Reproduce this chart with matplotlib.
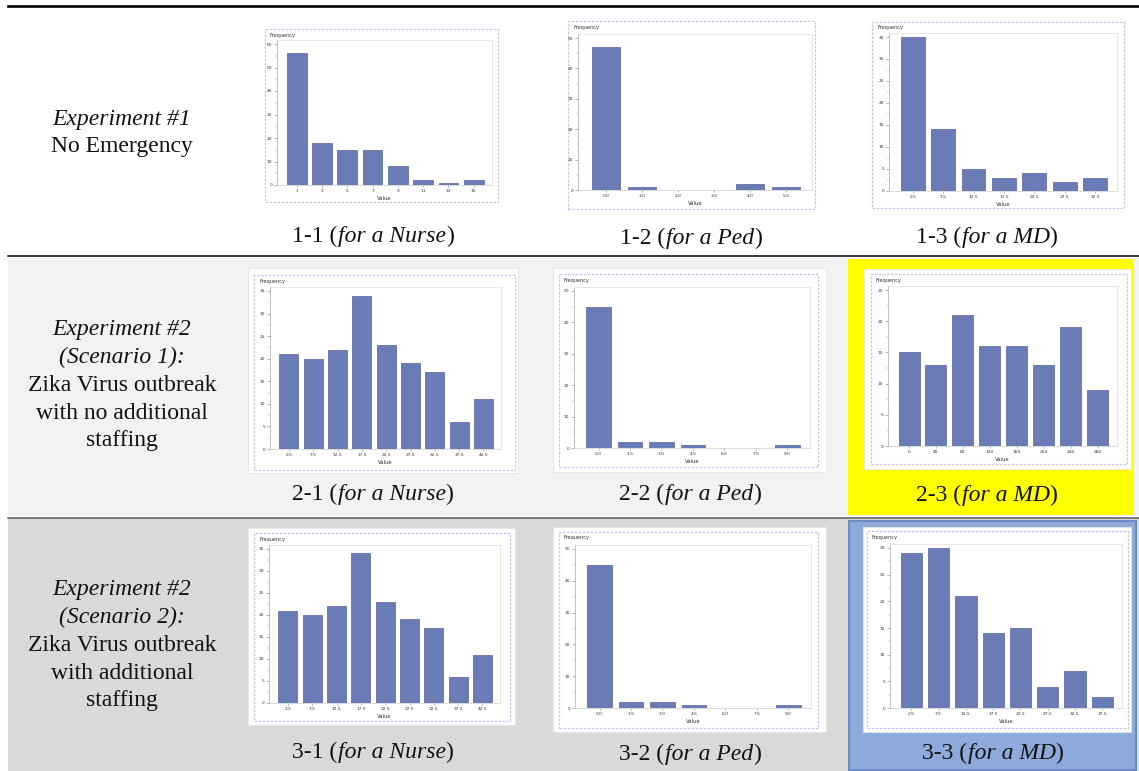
import matplotlib
matplotlib.use("Agg")
import matplotlib.pyplot as plt
from matplotlib.patches import Rectangle
from matplotlib.lines import Line2D
from matplotlib.ticker import MultipleLocator

# ---------------- data ----------------
nurse1_values = [56, 18, 15, 15, 8, 2, 1, 2]
nurse1_labels = ["1", "3", "5", "7", "9", "11", "13", "15"]
ped1_values = [47, 1, 0, 0, 2, 1]
ped1_labels = ["0.0", "1.0", "2.0", "3.0", "4.0", "5.0"]
md1_values = [35, 14, 5, 3, 4, 2, 3]
md1_labels = ["2.5", "7.5", "12.5", "17.5", "22.5", "27.5", "32.5"]

nurse2_values = [21, 20, 22, 34, 23, 19, 17, 6, 11]
nurse2_labels = ["2.5", "7.5", "12.5", "17.5", "22.5", "27.5", "32.5", "37.5", "42.5"]
ped2_values = [45, 2, 2, 1, 0, 0, 1]
ped2_labels = ["0.0", "1.5", "3.0", "4.5", "6.0", "7.5", "9.0"]
md2_values = [15, 13, 21, 16, 16, 13, 19, 9]
md2_labels = ["0", "40", "80", "120", "160", "200", "240", "280"]

nurse3_values = [21, 20, 22, 34, 23, 19, 17, 6, 11]
nurse3_labels = ["2.5", "7.5", "12.5", "17.5", "22.5", "27.5", "32.5", "37.5", "42.5"]
ped3_values = [45, 2, 2, 1, 0, 0, 1]
ped3_labels = ["0.0", "1.5", "3.0", "4.5", "6.0", "7.5", "9.0"]
md3_values = [29, 30, 21, 14, 15, 4, 7, 2]
md3_labels = ["2.5", "7.5", "12.5", "17.5", "22.5", "27.5", "32.5", "37.5"]

row_labels = [
    [("Experiment #1", "italic"), ("No Emergency", "normal")],
    [("Experiment #2", "italic"), ("(Scenario 1):", "italic"), ("Zika Virus outbreak", "normal"),
     ("with no additional", "normal"), ("staffing", "normal")],
    [("Experiment #2", "italic"), ("(Scenario 2):", "italic"), ("Zika Virus outbreak", "normal"),
     ("with additional", "normal"), ("staffing", "normal")],
]
captions = [
    ("1-1", "for a Nurse"), ("1-2", "for a Ped"), ("1-3", "for a MD"),
    ("2-1", "for a Nurse"), ("2-2", "for a Ped"), ("2-3", "for a MD"),
    ("3-1", "for a Nurse"), ("3-2", "for a Ped"), ("3-3", "for a MD"),
]

# ---------------- style ----------------
plt.rcParams["font.family"] = ["Liberation Serif", "DejaVu Serif"]

W, H = 1139, 771
fig = plt.figure(figsize=(W / 100, H / 100), dpi=100)
fig.patch.set_facecolor("white")
FS = 17
renderer = fig.canvas.get_renderer()


def fx(x):
    return x / W


def fy(y):
    return 1 - y / H


def rect(x0, y0, x1, y1, **kw):
    r = Rectangle((fx(x0), fy(y1)), (x1 - x0) / W, (y1 - y0) / H,
                  transform=fig.transFigure, figure=fig, **kw)
    fig.patches.append(r)
    return r


def hline(y, x0, x1, lw, color="black"):
    fig.lines.append(Line2D([fx(x0), fx(x1)], [fy(y), fy(y)], transform=fig.transFigure,
                            color=color, lw=lw, figure=fig))


# backgrounds
rect(8, 258, 1139, 515.5, facecolor="#f2f2f2", edgecolor="none", zorder=0)
rect(8, 519, 1139, 771, facecolor="#d9d9d9", edgecolor="none", zorder=0)
rect(848, 259, 1134, 515, facecolor="#ffff00", edgecolor="none", zorder=0.5)
rect(849, 521, 1136, 770, facecolor="#8eaadb", edgecolor="#6d8cc6", lw=1.5, zorder=0.5)

hline(6, 8, 1139, 1.9)
hline(256, 8, 1139, 1.1)
hline(517.5, 8, 1139, 1.1, color="#555555")

# left labels
label_tops = [119, 330, 590]
for lines, y0 in zip(row_labels, label_tops):
    for i, (t, st) in enumerate(lines):
        fig.text(fx(122), fy(y0 + i * 27.7), t, ha="center", va="center",
                 fontsize=FS, style=st, color="#111111")

# captions (regular / italic / regular pieces)
cap_pos = [(373, 236), (691, 238), (987, 237),
           (373, 494), (690, 494), (987, 495),
           (373, 752), (690, 754), (993, 753)]
for (num, txt), (cx, cy) in zip(captions, cap_pos):
    pieces = [(num + " (", "normal"), (txt, "italic"), (")", "normal")]
    objs = []
    widths = []
    for s, st in pieces:
        t = fig.text(0, fy(cy), s, ha="left", va="baseline", fontsize=FS, style=st,
                     color="#111111")
        objs.append(t)
        widths.append(t.get_window_extent(renderer).width)
    total = sum(widths)
    x = cx - total / 2
    for t, w in zip(objs, widths):
        t.set_x(fx(x))
        x += w
    # vertically: baseline slightly below the centre
    for t in objs:
        t.set_y(fy(cy + 6))

# mini histogram charts
charts = [
    dict(v=nurse1_values, l=nurse1_labels, ymax=60, step=10, card=None,
         frame=(265, 29, 498, 202), ax=(277, 44, 492, 185)),
    dict(v=ped1_values, l=ped1_labels, ymax=50, step=10, card=None,
         frame=(568, 21, 815, 209), ax=(578, 38, 812, 190)),
    dict(v=md1_values, l=md1_labels, ymax=35, step=5, card=None,
         frame=(872, 22, 1124, 208), ax=(889, 37, 1117, 191)),
    dict(v=nurse2_values, l=nurse2_labels, ymax=35, step=5, card=(248, 268, 518, 473),
         frame=(254, 275, 515, 470), ax=(270, 291, 501, 449)),
    dict(v=ped2_values, l=ped2_labels, ymax=50, step=10, card=(553, 268, 826, 472),
         frame=(559, 274, 818, 467), ax=(574, 291, 810, 448)),
    dict(v=md2_values, l=md2_labels, ymax=25, step=5, card=(864, 269, 1131, 469),
         frame=(871, 274, 1127, 464), ax=(888, 290, 1117, 446)),
    dict(v=nurse3_values, l=nurse3_labels, ymax=35, step=5, card=(248, 528, 515, 725),
         frame=(254, 533, 510, 721), ax=(269, 549, 500, 703)),
    dict(v=ped3_values, l=ped3_labels, ymax=50, step=10, card=(553, 527, 826, 732),
         frame=(559, 532, 818, 728), ax=(575, 549, 811, 708)),
    dict(v=md3_values, l=md3_labels, ymax=30, step=5, card=(863, 527, 1131, 732),
         frame=(867, 531, 1128, 728), ax=(890, 548, 1122, 708)),
]

bar_color = "#6b7bb5"
for c in charts:
    if c["card"] is not None:
        x0, y0, x1, y1 = c["card"]
        rect(x0, y0, x1, y1, facecolor="white", edgecolor="#e6e6e6", lw=0.6, zorder=1)
    x0, y0, x1, y1 = c["frame"]
    rect(x0, y0, x1, y1, facecolor="white", edgecolor="#c4c4f4", lw=0.9,
         linestyle=(0, (2, 1.2)), zorder=1.2)
    fig.text(fx(x0 + 5), fy(y0 + 6), "Frequency", fontsize=3.6, family="DejaVu Sans",
             ha="left", va="center", color="#333333", zorder=3)

    ax0, aytop, ax1, ayzero = c["ax"]
    pad = 0.025 * (ayzero - aytop)
    top_px = aytop - pad
    ax = fig.add_axes([fx(ax0), fy(ayzero), (ax1 - ax0) / W, (ayzero - top_px) / H])
    ax.set_zorder(2)
    n = len(c["v"])
    xs = list(range(n))
    ax.bar(xs, c["v"], width=0.78, color=bar_color, edgecolor="#56639c", lw=0.5)
    ax.set_xlim(-0.78, n - 0.28)
    ax.set_ylim(0, c["ymax"] * (ayzero - top_px) / (ayzero - aytop))
    ax.set_xticks(xs)
    ax.set_xticklabels(c["l"], fontsize=3.2, family="DejaVu Sans", color="#333333")
    ax.yaxis.set_major_locator(MultipleLocator(c["step"]))
    ax.yaxis.set_minor_locator(MultipleLocator(c["step"] / 2))
    ax.tick_params(axis="y", labelsize=3.2, length=2, width=0.4, color="#777777",
                   labelcolor="#333333", pad=1.5)
    ax.tick_params(axis="y", which="minor", length=1.2, width=0.3, color="#999999")
    ax.tick_params(axis="x", length=1.5, width=0.4, color="#777777", pad=1.5)
    for lab in ax.get_yticklabels():
        lab.set_family("DejaVu Sans")
    for s in ax.spines.values():
        s.set_color("#dedede")
        s.set_linewidth(0.5)
    ax.spines["left"].set_color("#aaaaaa")
    ax.spines["bottom"].set_color("#cccccc")
    ax.set_facecolor("white")
    ax.set_xlabel("Value", fontsize=3.8, family="DejaVu Sans", color="#333333", labelpad=2)

fig.savefig("out.png", dpi=100)
